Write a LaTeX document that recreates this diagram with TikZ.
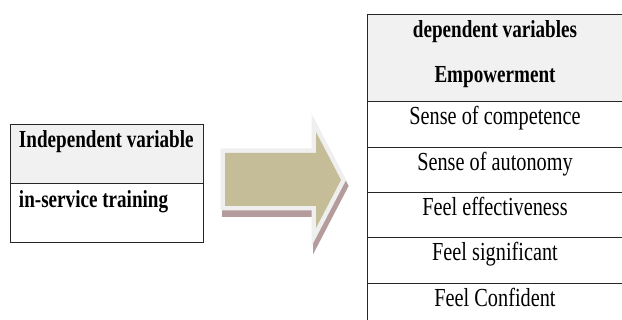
\documentclass[tikz,border=0pt]{standalone}
\usepackage{fontspec}
\setmainfont{Liberation Serif}[FakeStretch=0.78]
\usetikzlibrary{positioning}

\definecolor{headgray}{HTML}{F1F1F1}
\definecolor{arrowtan}{HTML}{C4BD97}
\definecolor{arrowglow}{HTML}{EFEFEF}
\definecolor{arrowshade}{HTML}{B59C9C}

\begin{document}
\begin{tikzpicture}[x=1pt, y=-1pt,
  box/.style={draw=black!85, line width=1pt, inner sep=0pt, outer sep=0pt},
  leftcell/.style={box, minimum height=59, text width=175, inner xsep=9pt, align=flush left,
    font=\bfseries\fontsize{24.5}{28}\selectfont},
  cell/.style={box, minimum width=256, minimum height=45.3, text height=23, text depth=22.3,
    font=\fontsize{26}{30}\selectfont},
  bold/.style={font=\bfseries\fontsize{24.5}{28}\selectfont, inner sep=0pt}
]
\useasboundingbox (0,0) rectangle (622,320);

% independent side
\node[leftcell, fill=headgray, text height=23, text depth=36, anchor=north west]
  (indep) at (10,125) {\mbox{Independent variable}};
\node[leftcell, text height=24, text depth=35, below=0pt of indep] (training) {in-service training};

% block arrow: shadow, glow, body
\draw[arrowshade, line width=10, line join=miter, shift={(2,6)}]
  (225,153) -- (316,153) -- (316,132) -- (341,180) -- (316,228) -- (316,206) -- (225,206) -- cycle;
\draw[arrowglow, line width=9, line join=miter]
  (225,153) -- (316,153) -- (316,132) -- (341,180) -- (316,228) -- (316,206) -- (225,206) -- cycle;
\fill[arrowtan]
  (225,153) -- (316,153) -- (316,132) -- (341,180) -- (316,228) -- (316,206) -- (225,206) -- cycle;

% dependent side
\node[box, fill=headgray, minimum width=256, minimum height=87, anchor=north west] (hdr) at (367,15) {};
\node[bold, anchor=base] (dep) at ([yshift=-23pt]hdr.north) {dependent variables};
\node[bold, anchor=base] (emp) at ([yshift=-68pt]hdr.north) {Empowerment};

\node[cell, below=0pt of hdr] (comp) {Sense of competence};
\node[cell, below=0pt of comp] (auto) {Sense of autonomy};
\node[cell, below=0pt of auto] (effe) {Feel effectiveness};
\node[cell, below=0pt of effe] (sign) {Feel significant};
\node[cell, below=0pt of sign] (conf) {Feel Confident};
\end{tikzpicture}
\end{document}
